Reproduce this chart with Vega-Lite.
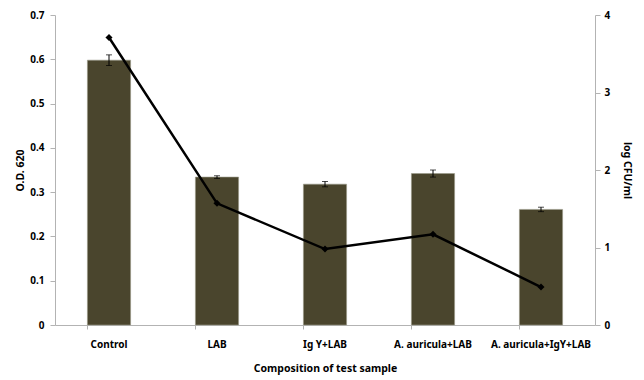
{
  "$schema": "https://vega.github.io/schema/vega-lite/v6.json",
  "width": 540,
  "height": 310,
  "autosize": "none",
  "padding": {"left": 55, "top": 15, "right": 49, "bottom": 55},
  "background": "white",
  "config": {
    "view": {"stroke": null},
    "font": "Noto Sans",
    "axis": {
      "grid": false,
      "domainColor": "#b3b3b3",
      "tickColor": "#b3b3b3",
      "labelFont": "Noto Sans",
      "labelFontWeight": "bold",
      "labelFontSize": 10,
      "labelColor": "#000000",
      "titleFont": "Noto Sans",
      "titleFontWeight": "bold",
      "titleFontSize": 10.5,
      "titleColor": "#000000"
    }
  },
  "data": {
    "values": [
      {"sample": "Control", "od": 0.598, "err": 0.012, "logcfu": 3.71},
      {"sample": "LAB", "od": 0.334, "err": 0.003, "logcfu": 1.57},
      {"sample": "Ig Y+LAB", "od": 0.318, "err": 0.006, "logcfu": 0.98},
      {"sample": "A. auricula+LAB", "od": 0.342, "err": 0.008, "logcfu": 1.17},
      {"sample": "A. auricula+IgY+LAB", "od": 0.261, "err": 0.005, "logcfu": 0.49}
    ]
  },
  "encoding": {
    "x": {
      "field": "sample",
      "type": "nominal",
      "sort": null,
      "scale": {"paddingInner": 0.6, "paddingOuter": 0.3},
      "axis": {
        "title": "Composition of test sample",
        "labelAngle": 0,
        "bandPosition": 0,
        "tickSize": 4,
        "labelPadding": 10,
        "titlePadding": 14
      }
    }
  },
  "layer": [
    {
      "layer": [
        {
          "mark": {"type": "bar", "color": "#4a452d", "stroke": "#9a9a8a", "strokeWidth": 0.6},
          "encoding": {
            "y": {
              "field": "od",
              "type": "quantitative",
              "title": "O.D. 620",
              "scale": {"domain": [0, 0.7]},
              "axis": {
                "values": [0, 0.1, 0.2, 0.3, 0.4, 0.5, 0.6, 0.7],
                "labelExpr": "datum.value == 0 ? '0' : format(datum.value, '.1f')",
                "tickSize": 5,
                "labelPadding": 6,
                "titlePadding": 4
              }
            }
          }
        },
        {
          "mark": {"type": "errorbar", "ticks": {"size": 6, "color": "#000000"}, "color": "#000000", "thickness": 1},
          "encoding": {
            "y": {"field": "od", "type": "quantitative", "title": "O.D. 620", "scale": {"domain": [0, 0.7]}},
            "yError": {"field": "err"}
          }
        }
      ]
    },
    {
      "mark": {
        "type": "line",
        "color": "#000000",
        "strokeWidth": 2.5,
        "point": {"shape": "diamond", "size": 50, "filled": true, "color": "#000000"}
      },
      "encoding": {
        "y": {
          "field": "logcfu",
          "type": "quantitative",
          "scale": {"domain": [0, 4]},
          "axis": {
            "orient": "right",
            "title": "log CFU/ml",
            "values": [0, 1, 2, 3, 4],
            "tickSize": 5,
            "labelPadding": 4,
            "titlePadding": 12
          }
        }
      }
    }
  ],
  "resolve": {"scale": {"y": "independent"}}
}
